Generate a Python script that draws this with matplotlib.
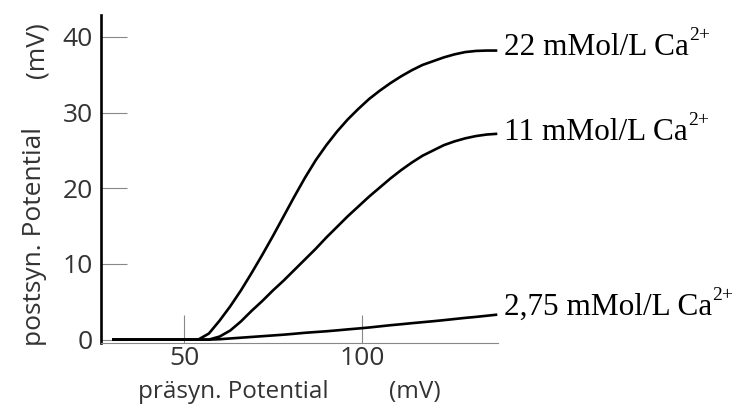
import numpy as np
import matplotlib
matplotlib.use('Agg')
import matplotlib.pyplot as plt

# values (mV)
pre_mv = [29.8, 45, 54, 57, 60, 63, 66, 69, 72, 75, 78, 81, 84, 87, 90, 93, 96, 99,
          102, 105, 108, 111, 114, 117, 120, 123, 126, 129, 132, 135, 138]
post_22 = [0, 0, 0, 0.8, 2.5, 4.4, 6.5, 8.8, 11.2, 13.7, 16.3, 18.9, 21.4, 23.7, 25.7,
           27.5, 29.1, 30.5, 31.8, 32.9, 33.9, 34.8, 35.6, 36.3, 36.8, 37.3, 37.7, 38.0,
           38.15, 38.2, 38.2]
post_11 = [0, 0, 0, 0, 0.4, 1.2, 2.4, 3.8, 5.1, 6.5, 7.8, 9.2, 10.6, 12.0, 13.5, 14.9,
           16.3, 17.6, 18.9, 20.1, 21.3, 22.4, 23.4, 24.3, 25.0, 25.7, 26.2, 26.6, 26.9,
           27.1, 27.2]
post_275 = [0, 0, 0, 0, 0.05, 0.15, 0.25, 0.35, 0.45, 0.55, 0.65, 0.77, 0.9, 1.0, 1.1,
            1.22, 1.35, 1.47, 1.6, 1.75, 1.9, 2.03, 2.17, 2.3, 2.43, 2.57, 2.72, 2.87,
            3.0, 3.15, 3.3]
curve_labels = ['22 mMol/L Ca', '11 mMol/L Ca', '2,75 mMol/L Ca']
label_y = [37.6, 26.4, 3.3]
x_ticks = [50, 100]
y_ticks = [0, 10, 20, 30, 40]

plt.rcParams['font.family'] = ['Open Sans', 'DejaVu Sans']

W, H = 740, 411
fig = plt.figure(figsize=(W / 100, H / 100), dpi=100)
fig.patch.set_facecolor('white')
ax = fig.add_axes([101 / W, 1 - 343 / H, (498 - 101) / W, (343 - 15) / H])

for ys in (post_22, post_11, post_275):
    ax.plot(pre_mv, ys, color='black', lw=1.9, solid_capstyle='butt', solid_joinstyle='round')

ax.set_xlim(26.7, 138.2)
ax.set_ylim(-0.45, 42.9)

for s in ('top', 'right'):
    ax.spines[s].set_visible(False)
ax.spines['left'].set_linewidth(1.9)
ax.spines['left'].set_color('black')
ax.spines['bottom'].set_linewidth(0.8)
ax.spines['bottom'].set_color('#888888')

ax.set_xticks(x_ticks)
ax.set_yticks(y_ticks)
tc = '#333333'
ax.tick_params(axis='y', direction='in', length=19, width=0.8, color='#888888',
               labelsize=19, labelcolor=tc, pad=6)
ax.tick_params(axis='x', direction='in', length=20, width=0.8, color='#888888',
               labelsize=19, labelcolor=tc, pad=2)

for lab, ly in zip(curve_labels, label_y):
    t = ax.text(139.9, ly, lab, family='Liberation Serif', fontsize=22.5, color='black',
                ha='left', va='baseline', clip_on=False)
    ax.annotate('2+', xy=(1.0, 0.62), xycoords=t, family='Liberation Serif',
                fontsize=14, color='black', ha='left', va='bottom')

# axis titles placed like the reference
fig.text(138 / W, 1 - 392 / H, 'präsyn. Potential', fontsize=17.5, color=tc, ha='left', va='center')
fig.text(415 / W, 1 - 392 / H, '(mV)', fontsize=17.5, color=tc, ha='center', va='center')
fig.text(35 / W, 1 - 346 / H, 'postsyn. Potential', fontsize=19, color=tc, rotation=90,
         ha='center', va='bottom')
fig.text(37 / W, 1 - 50 / H, '(mV)', fontsize=19, color=tc, rotation=90, ha='center', va='center')

fig.savefig('out.png', dpi=100, facecolor='white')
